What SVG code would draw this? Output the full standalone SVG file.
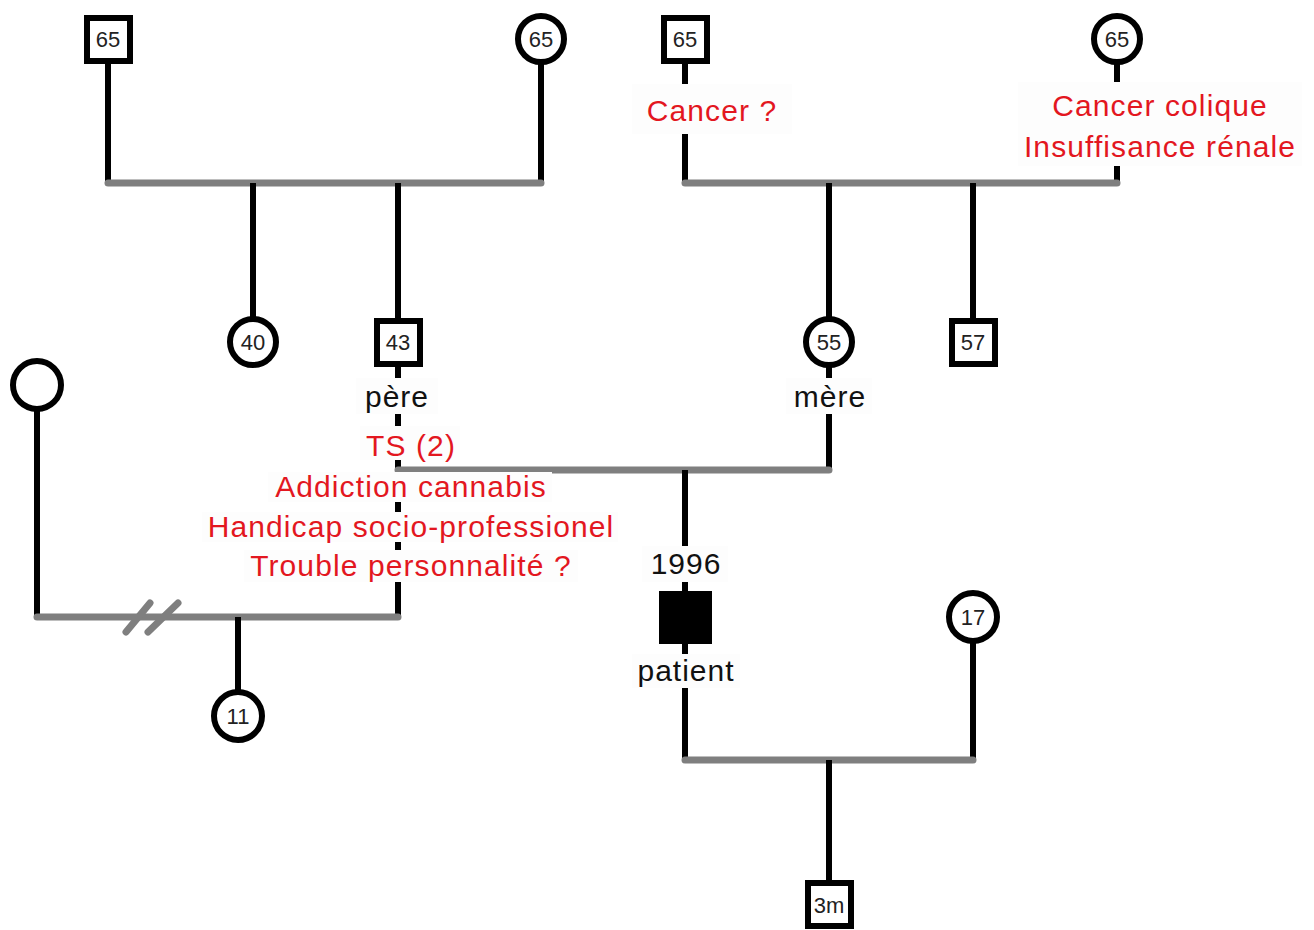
<svg xmlns="http://www.w3.org/2000/svg" width="1314" height="930" viewBox="0 0 1314 930">
<style>
.v{stroke:#000;stroke-width:6;fill:none}
.h{stroke:#7f7f7f;stroke-width:7;stroke-linecap:round;fill:none}
.n{fill:#fff;stroke:#000;stroke-width:6}
.f{fill:#000;stroke:#000;stroke-width:2}
.num{font-family:"Liberation Sans",Arial,sans-serif;font-size:22px;fill:#222;text-anchor:middle}
.lbl{font-family:"Liberation Sans",Arial,sans-serif;font-size:30px;letter-spacing:1px;fill:#111;text-anchor:middle}
.red{font-family:"Liberation Sans",Arial,sans-serif;font-size:30px;letter-spacing:1.1px;fill:#e3171f;text-anchor:middle}
.bg{fill:#fdfdfd}
</style>
<rect width="1314" height="930" fill="#fff"/>
<g id="connectors">
<line class="v" x1="108" y1="60" x2="108" y2="183"/>
<line class="v" x1="541" y1="60" x2="541" y2="183"/>
<line class="h" x1="108" y1="183" x2="541" y2="183"/>
<line class="v" x1="253" y1="183" x2="253" y2="320"/>
<line class="v" x1="398" y1="183" x2="398" y2="320"/>
<line class="v" x1="685" y1="60" x2="685" y2="183"/>
<line class="v" x1="1117" y1="60" x2="1117" y2="183"/>
<line class="h" x1="685" y1="183" x2="1117" y2="183"/>
<line class="v" x1="829" y1="183" x2="829" y2="320"/>
<line class="v" x1="973" y1="183" x2="973" y2="320"/>
<line class="v" x1="398" y1="365" x2="398" y2="617"/>
<line class="v" x1="829" y1="365" x2="829" y2="470"/>
<line class="h" x1="398" y1="470" x2="829" y2="470"/>
<line class="v" x1="685" y1="470" x2="685" y2="760"/>
<line class="v" x1="37" y1="408" x2="37" y2="617"/>
<line class="h" x1="37" y1="617" x2="398" y2="617"/>
<line class="h" x1="126" y1="632" x2="150" y2="603"/>
<line class="h" x1="148" y1="632" x2="178" y2="603"/>
<line class="v" x1="238" y1="617" x2="238" y2="695"/>
<line class="v" x1="973" y1="640" x2="973" y2="760"/>
<line class="h" x1="685" y1="760" x2="973" y2="760"/>
<line class="v" x1="829" y1="760" x2="829" y2="883"/>
</g>
<g id="n_gf1"><rect class="n" x="87" y="18" width="43" height="43"/><text class="num" x="108" y="47">65</text></g>
<g id="n_gm1"><circle class="n" cx="541" cy="39" r="23"/><text class="num" x="541" y="47">65</text></g>
<g id="n_gf2"><rect class="n" x="664" y="18" width="43" height="43"/><text class="num" x="685" y="47">65</text></g>
<g id="n_gm2"><circle class="n" cx="1117" cy="39" r="23"/><text class="num" x="1117" y="47">65</text></g>
<g id="n_aunt"><circle class="n" cx="253" cy="342" r="23"/><text class="num" x="253" y="350">40</text></g>
<g id="n_father"><rect class="n" x="377" y="321" width="43" height="43"/><text class="num" x="398" y="350">43</text></g>
<g id="n_mother"><circle class="n" cx="829" cy="342" r="23"/><text class="num" x="829" y="350">55</text></g>
<g id="n_uncle"><rect class="n" x="952" y="321" width="43" height="43"/><text class="num" x="973" y="350">57</text></g>
<g id="n_exwife"><circle class="n" cx="37" cy="385" r="24"/></g>
<g id="n_half"><circle class="n" cx="238" cy="716" r="24"/><text class="num" x="238" y="724">11</text></g>
<g id="n_patient"><rect class="f" x="660" y="592" width="51" height="51"/></g>
<g id="n_partner"><circle class="n" cx="973" cy="617" r="24"/><text class="num" x="973" y="625">17</text></g>
<g id="n_child"><rect class="n" x="808" y="883" width="43" height="43"/><text class="num" x="829" y="913">3m</text></g>
<g id="labels">
<rect class="bg" x="632" y="84" width="160" height="50"/>
<text class="red" x="712" y="121">Cancer ?</text>
<rect class="bg" x="1018" y="82" width="284" height="84"/>
<text class="red" x="1160" y="116">Cancer colique</text>
<text class="red" x="1160" y="157">Insuffisance rénale</text>
<rect class="bg" x="356" y="378" width="82" height="36"/>
<text class="lbl" x="397" y="407">père</text>
<rect class="bg" x="786" y="378" width="86" height="36"/>
<text class="lbl" x="830" y="407">mère</text>
<rect class="bg" x="360" y="426" width="100" height="34"/>
<text class="red" x="411" y="456">TS (2)</text>
<rect class="bg" x="268" y="472" width="284" height="30"/>
<text class="red" x="411" y="497">Addiction cannabis</text>
<rect class="bg" x="202" y="512" width="416" height="30"/>
<text class="red" x="411" y="537">Handicap socio-professionel</text>
<rect class="bg" x="244" y="550" width="334" height="32"/>
<text class="red" x="411" y="576">Trouble personnalité ?</text>
<rect class="bg" x="642" y="546" width="86" height="36"/>
<text class="lbl" x="686" y="574">1996</text>
<rect class="bg" x="632" y="654" width="108" height="34"/>
<text class="lbl" x="686" y="681">patient</text>
</g>
</svg>
